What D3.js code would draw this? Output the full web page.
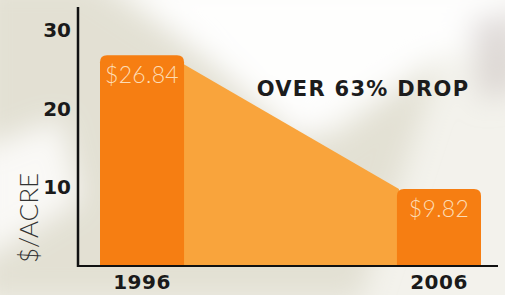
<!DOCTYPE html>
<html>
<head>
<meta charset="utf-8">
<script src="https://d3js.org/d3.v7.min.js"></script>
<style>
  html, body { margin: 0; padding: 0; background: #f4f3ee; }
  svg { display: block; }
</style>
</head>
<body>
<svg width="505" height="295"></svg>
<script>
// data
var years = ["1996", "2006"];
var values = [26.84, 9.82];
var valueLabels = ["$26.84", "$9.82"];
var tickVals = [10, 20, 30];
var note = "OVER 63% DROP";
var yTitle = "$/ACRE";

var svg = d3.select("svg");
var W = 505, H = 295;
var boldFont = "'DejaVu Sans', sans-serif";
var thinFont = "Lato, sans-serif";

// soft background
var defs = svg.append("defs");
defs.append("filter").attr("id", "blur").attr("x", "-50%").attr("y", "-50%").attr("width", "200%").attr("height", "200%")
  .append("feGaussianBlur").attr("stdDeviation", 14);
svg.append("rect").attr("width", W).attr("height", H).attr("fill", "#f3f2ec");
var bg = svg.append("g").attr("filter", "url(#blur)");
bg.append("path").attr("d", "M-20,-20 L90,-20 L330,140 L440,60 L360,300 L-20,300 Z").attr("fill", "#dedccd").attr("opacity", 0.8);
bg.append("path").attr("d", "M120,-20 L520,-20 L520,40 L430,60 L300,140 Z").attr("fill", "#ffffff").attr("opacity", 0.9);
bg.append("path").attr("d", "M-20,150 L60,120 L80,200 L-20,260 Z").attr("fill", "#ffffff").attr("opacity", 0.8);
bg.append("path").attr("d", "M470,20 L520,10 L520,90 L480,100 Z").attr("fill", "#cfc7c4").attr("opacity", 0.6);

var y = d3.scaleLinear().domain([0, 33]).range([266, 7]);
var x = d3.scaleBand().domain(years).range([100, 481]).paddingInner(0.717).paddingOuter(0);
var bw = x.bandwidth();

// light orange connector shape
var x1r = x(years[0]) + bw, x2l = x(years[1]);
svg.append("path")
  .attr("d", d3.line()([[x1r - 2, y(values[0]) + 8], [x2l + 2, y(values[1])], [x2l + 2, y(0)], [x1r - 2, y(0)]]) + "Z")
  .attr("fill", "#f9a43c");

// bars with rounded top corners
function barPath(x0, w, yt, yb, r) {
  return "M" + x0 + "," + yb + "V" + (yt + r) + "Q" + x0 + "," + yt + " " + (x0 + r) + "," + yt +
    "H" + (x0 + w - r) + "Q" + (x0 + w) + "," + yt + " " + (x0 + w) + "," + (yt + r) + "V" + yb + "Z";
}
svg.selectAll(".bar").data(values).enter().append("path")
  .attr("class", "bar")
  .attr("d", function(d, i) { return barPath(x(years[i]), bw, y(d), y(0), 7); })
  .attr("fill", "#f67e12");

svg.selectAll(".vlab").data(valueLabels).enter().append("text")
  .attr("x", function(d, i) { return x(years[i]) + bw / 2; })
  .attr("y", function(d, i) { return y(values[i]) + 28; })
  .attr("text-anchor", "middle")
  .attr("font-family", thinFont).attr("font-weight", 300)
  .attr("font-size", 23).attr("letter-spacing", 0.3).attr("fill", "#fddcb4")
  .text(function(d) { return d; });

// axes
var yAxis = svg.append("g").attr("transform", "translate(78,0)")
  .call(d3.axisLeft(y).tickValues(tickVals).tickSize(0).tickPadding(7));
yAxis.select(".domain").attr("stroke", "#111").attr("stroke-width", 2.5).attr("d", "M0,7V267");
yAxis.selectAll("text").attr("font-family", boldFont).attr("font-weight", "bold")
  .attr("font-size", 20).attr("fill", "#1a1a1a");

var xAxis = svg.append("g").attr("transform", "translate(0,266)")
  .call(d3.axisBottom(x).tickSize(0).tickPadding(9));
xAxis.select(".domain").attr("stroke", "#111").attr("stroke-width", 2).attr("d", "M77,0H498");
xAxis.selectAll("text").attr("font-family", boldFont).attr("font-weight", "bold")
  .attr("font-size", 20).attr("letter-spacing", 0.5).attr("fill", "#1a1a1a");

svg.append("text")
  .attr("transform", "translate(38,218) rotate(-90)")
  .attr("text-anchor", "middle")
  .attr("font-family", thinFont).attr("font-weight", 300)
  .attr("font-size", 26).attr("fill", "#333")
  .text(yTitle);

svg.append("text")
  .attr("x", 363).attr("y", 96)
  .attr("text-anchor", "middle")
  .attr("font-family", boldFont).attr("font-weight", "bold")
  .attr("font-size", 21).attr("letter-spacing", 1.3).attr("fill", "#1c1c1c")
  .text(note);
</script>
</body>
</html>
